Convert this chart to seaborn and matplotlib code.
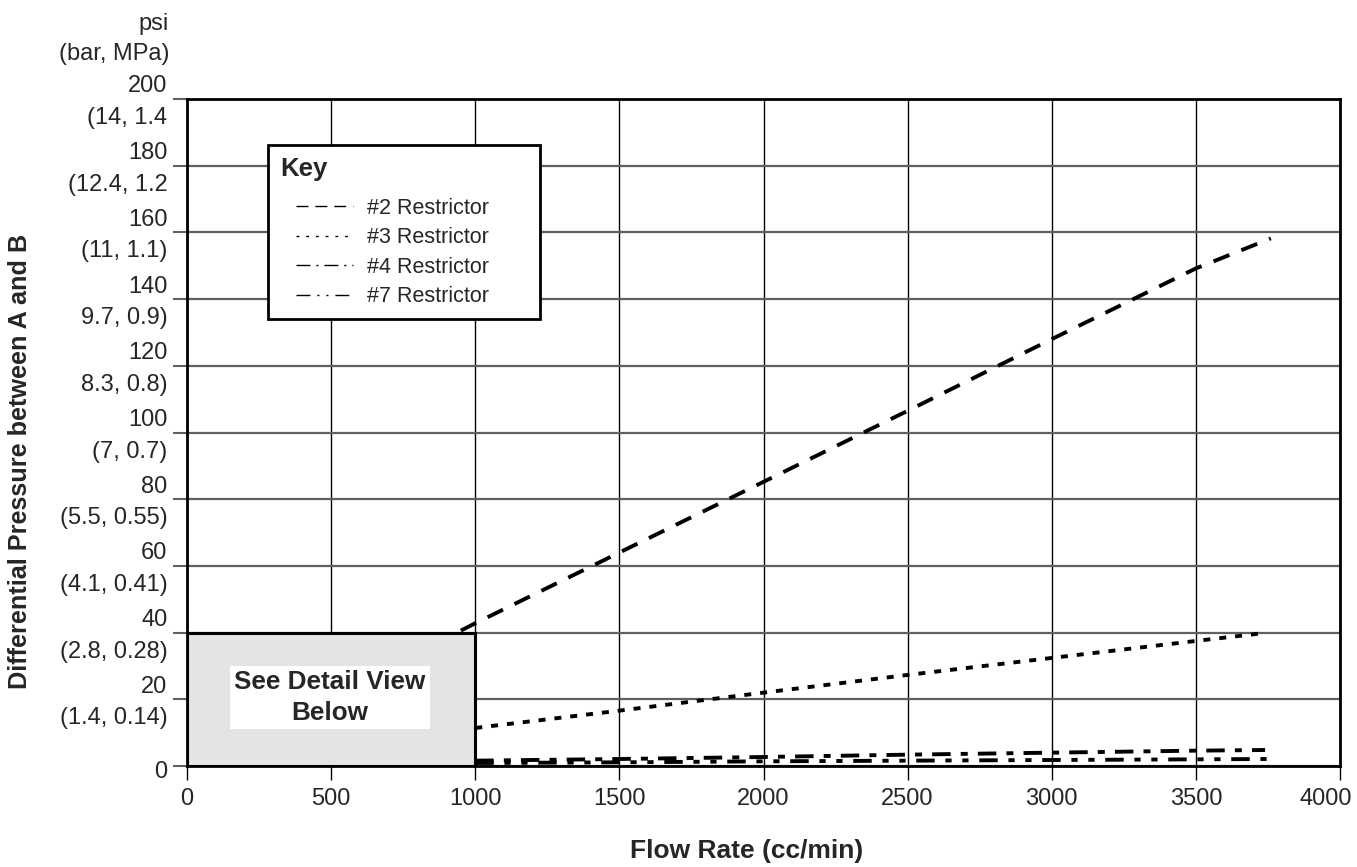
import pandas as pd
import seaborn as sns
import matplotlib.pyplot as plt
from matplotlib.lines import Line2D
from matplotlib.patches import Rectangle
from matplotlib.legend_handler import HandlerLine2D
from matplotlib.transforms import ScaledTranslation

# -----------------------------
# Values
# -----------------------------
restrictors = ['#2 Restrictor', '#3 Restrictor', '#4 Restrictor', '#7 Restrictor']

flow_2 = [950, 1000, 1500, 2000, 2500, 3000, 3500, 3760]
dp_2 = [40.6, 42.8, 64.0, 85.2, 106.5, 128.0, 149.2, 158.2]

flow_3 = [1000, 1500, 2000, 2500, 3000, 3500, 3720]
dp_3 = [11.4, 16.6, 22.0, 27.3, 32.4, 37.5, 39.7]

flow_4 = [1000, 1500, 2000, 2500, 3000, 3500, 3740]
dp_4 = [1.6, 2.1, 2.7, 3.4, 4.0, 4.6, 4.8]

flow_7 = [1000, 1500, 2000, 2500, 3000, 3500, 3750]
dp_7 = [0.9, 1.1, 1.4, 1.6, 1.8, 2.0, 2.1]

x_ticks = [0, 500, 1000, 1500, 2000, 2500, 3000, 3500, 4000]
y_ticks = [0, 20, 40, 60, 80, 100, 120, 140, 160, 180, 200]
y_tick_labels = [
    '0',
    '20\n(1.4, 0.14)',
    '40\n(2.8, 0.28)',
    '60\n(4.1, 0.41)',
    '80\n(5.5, 0.55)',
    '100\n(7, 0.7)',
    '120\n8.3, 0.8)',
    '140\n9.7, 0.9)',
    '160\n(11, 1.1)',
    '180\n(12.4, 1.2',
    '200\n(14, 1.4',
]

# long format for seaborn
df = pd.concat([
    pd.DataFrame({'FLOW': flow_2, 'DP': dp_2, 'RESTRICTOR': restrictors[0]}),
    pd.DataFrame({'FLOW': flow_3, 'DP': dp_3, 'RESTRICTOR': restrictors[1]}),
    pd.DataFrame({'FLOW': flow_4, 'DP': dp_4, 'RESTRICTOR': restrictors[2]}),
    pd.DataFrame({'FLOW': flow_7, 'DP': dp_7, 'RESTRICTOR': restrictors[3]}),
], ignore_index=True)

# dash patterns (in line widths) for the thick plot lines and the thin key lines
plot_dashes = {
    restrictors[0]: (4.4, 3.3),
    restrictors[1]: (1.8, 2.3),
    restrictors[2]: (4.75, 2.6, 1.8, 2.6),
    restrictors[3]: (4.75, 2.75, 1.6, 2.75, 1.6, 2.75),
}
key_dashes = {
    restrictors[0]: (8.6, 5),
    restrictors[1]: (2, 5),
    restrictors[2]: (10, 4.3, 1.5, 4.3),
    restrictors[3]: (10, 5, 1.5, 5, 1.5, 5),
}

sns.set_style('white')
plt.rcParams['font.family'] = ['Liberation Sans', 'DejaVu Sans']

fig = plt.figure(figsize=(13.57, 8.67), dpi=100)
ax = fig.add_axes([187 / 1357, 101 / 867, 1153 / 1357, 667 / 867])

sns.lineplot(
    data=df, x='FLOW', y='DP', style='RESTRICTOR',
    dashes=plot_dashes, color='black', linewidth=2.8,
    estimator=None, sort=False, legend=False, ax=ax
)

ax.set_xlim(0, 4000)
ax.set_ylim(0, 200)
ax.set_xticks(x_ticks)
ax.set_yticks(y_ticks)
ax.set_yticklabels(y_tick_labels)

ax.xaxis.grid(True, color='black', linewidth=1)
ax.yaxis.grid(True, color='#606060', linewidth=1.6)
ax.tick_params(axis='x', direction='out', length=10, width=1, color='black',
               pad=6, labelsize=17, bottom=True)
ax.tick_params(axis='y', direction='out', length=10, width=1.5, color='#606060',
               pad=4, labelsize=17, left=True)
for s in ax.spines.values():
    s.set_color('black')
    s.set_linewidth(2)

# two-line y labels: number above the gridline, (bar, MPa) below
for i, t in enumerate(ax.get_yticklabels()):
    t.set_linespacing(1.56)
    dy = 0.04 if i > 0 else -0.03
    t.set_transform(t.get_transform() + ScaledTranslation(0, dy, fig.dpi_scale_trans))

# last x label sits a bit inside the right edge, as in the original
last = ax.get_xticklabels()[-1]
last.set_transform(last.get_transform() + ScaledTranslation(-0.14, 0, fig.dpi_scale_trans))

ax.set_xlabel('Flow Rate (cc/min)', fontsize=19, fontweight='bold')
ax.xaxis.set_label_coords(0.485, -0.11)
ax.set_ylabel('Differential Pressure between A and B', fontsize=18.2, fontweight='bold')
ax.yaxis.set_label_coords(-0.1344, 0.456)

ax.text(-0.0155, 1.0895, 'psi\n(bar, MPa)', transform=ax.transAxes,
        ha='right', va='center', fontsize=17, linespacing=1.45, clip_on=False)

# grey box hiding the low range
ax.add_patch(Rectangle((0, 0), 1000, 40, facecolor='#e4e4e4', edgecolor='black',
                       linewidth=2.2, zorder=3))
ax.text(496, 20.6, 'See Detail View\nBelow', ha='center', va='center',
        fontsize=18.8, fontweight='bold', linespacing=1.35, zorder=4,
        bbox=dict(facecolor='white', edgecolor='none', pad=3))

# Key
handles = [Line2D([], [], color='black', linewidth=1, dashes=key_dashes[r]) for r in restrictors]
leg = ax.legend(
    handles=handles, labels=restrictors, title='Key',
    loc='upper left', bbox_to_anchor=(0.0703, 0.931, 0.236, 0), mode='expand',
    borderaxespad=0, borderpad=0.55, labelspacing=0.4,
    handlelength=3.4, handletextpad=0.65, fontsize=15.5,
    title_fontproperties={'weight': 'bold', 'size': 18.5}, alignment='left',
    frameon=True, fancybox=False, framealpha=1, edgecolor='black',
    handler_map={Line2D: HandlerLine2D(xpad=0.75)},
)
leg.get_frame().set_linewidth(2)
leg.set_zorder(5)
leg._legend_box.sep = 12

plt.savefig('out.png', dpi=100)
